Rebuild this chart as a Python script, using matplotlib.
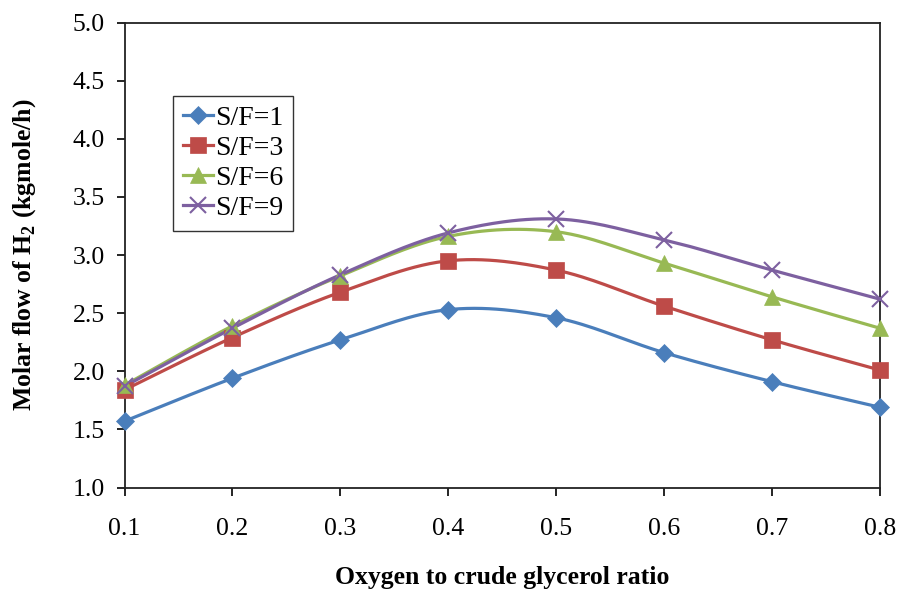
import numpy as np
import matplotlib
matplotlib.use("Agg")
import matplotlib.pyplot as plt

plt.rcParams["font.family"] = ["Liberation Serif", "DejaVu Serif"]
plt.rcParams["mathtext.fontset"] = "custom"
plt.rcParams["mathtext.rm"] = "Liberation Serif"
plt.rcParams["mathtext.bf"] = "Liberation Serif:bold"

# Oxygen to crude glycerol ratio
ratio = [0.1, 0.2, 0.3, 0.4, 0.5, 0.6, 0.7, 0.8]

# Molar flow of H2 (kgmole/h) for each steam-to-feed ratio
sf1 = [1.57, 1.94, 2.27, 2.53, 2.46, 2.16, 1.91, 1.69]
sf3 = [1.84, 2.29, 2.68, 2.95, 2.87, 2.56, 2.27, 2.01]
sf6 = [1.88, 2.39, 2.82, 3.16, 3.20, 2.93, 2.64, 2.37]
sf9 = [1.87, 2.37, 2.83, 3.19, 3.31, 3.13, 2.87, 2.62]

labels = ["S/F=1", "S/F=3", "S/F=6", "S/F=9"]
colors = ["#4A7EBB", "#BE4B48", "#98B954", "#7D60A0"]
markers = ["D", "s", "^", "x"]
msizes = [9, 11, 11, 12]


def smooth(x, y, n=30):
    """Bezier smoothing through every point (spreadsheet-style smoothed line)."""
    x = np.asarray(x, float)
    y = np.asarray(y, float)
    px = np.concatenate([[x[0]], x, [x[-1]]])
    py = np.concatenate([[y[0]], y, [y[-1]]])
    xs, ys = [], []
    t = np.linspace(0, 1, n)
    for i in range(len(x) - 1):
        p0 = np.array([x[i], y[i]])
        p3 = np.array([x[i + 1], y[i + 1]])
        p1 = p0 + (np.array([px[i + 2], py[i + 2]]) - np.array([px[i], py[i]])) / 6
        p2 = p3 - (np.array([px[i + 3], py[i + 3]]) - np.array([px[i + 1], py[i + 1]])) / 6
        b = ((1 - t) ** 3)[:, None] * p0 + (3 * (1 - t) ** 2 * t)[:, None] * p1 \
            + (3 * (1 - t) * t ** 2)[:, None] * p2 + (t ** 3)[:, None] * p3
        xs.append(b[:, 0])
        ys.append(b[:, 1])
    return np.concatenate(xs), np.concatenate(ys)


fig = plt.figure(figsize=(9.01, 5.93), dpi=100)
ax = fig.add_axes([124.5 / 901, 1 - 487.5 / 593, (880 - 124.5) / 901, 465 / 593])

handles = []
for ys, lab, c, m, ms in zip([sf1, sf3, sf6, sf9], labels, colors, markers, msizes):
    sx, sy = smooth(ratio, ys)
    ax.plot(sx, sy, color=c, lw=2.3, zorder=2, solid_capstyle="round")
    ax.plot(ratio, ys, linestyle="none", marker=m, color=c, ms=ms,
            mew=1.5 if m == "x" else 0.5, mec=c, zorder=3, clip_on=False)
    h, = ax.plot([], [], color=c, lw=2.3, marker=m, ms=ms,
                 mew=1.5 if m == "x" else 0.5, mec=c, label=lab)
    handles.append(h)

ax.set_xlim(0.1, 0.8)
ax.set_ylim(1.0, 5.0)
ax.set_xticks(ratio)
ax.set_xticklabels([f"{v:.1f}" for v in ratio])
ax.set_yticks(np.arange(1.0, 5.01, 0.5))
ax.set_yticklabels([f"{v:.1f}" for v in np.arange(1.0, 5.01, 0.5)])
ax.tick_params(axis="both", direction="out", length=6, width=1.2,
               labelsize=18.5, colors="black")
ax.tick_params(axis="x", pad=16)
ax.tick_params(axis="y", pad=8)
for s in ax.spines.values():
    s.set_linewidth(1.3)
    s.set_color("#222222")

ax.set_xlabel("Oxygen to crude glycerol ratio", fontsize=18.5,
              fontweight="bold", labelpad=19)
ax.set_ylabel(r"Molar flow of H$_{\mathbf{2}}$ (kgmole/h)", fontsize=18.5,
              fontweight="bold", labelpad=25)

leg = fig.legend(handles=handles, loc="upper left",
                 bbox_to_anchor=(173 / 901, 1 - 96 / 593), fontsize=20,
                 frameon=True, fancybox=False, edgecolor="black",
                 handlelength=1.1, handletextpad=0.06, borderpad=0.35,
                 labelspacing=0.16, borderaxespad=0)
leg.get_frame().set_linewidth(1.0)

fig.savefig("out.png", dpi=100)
